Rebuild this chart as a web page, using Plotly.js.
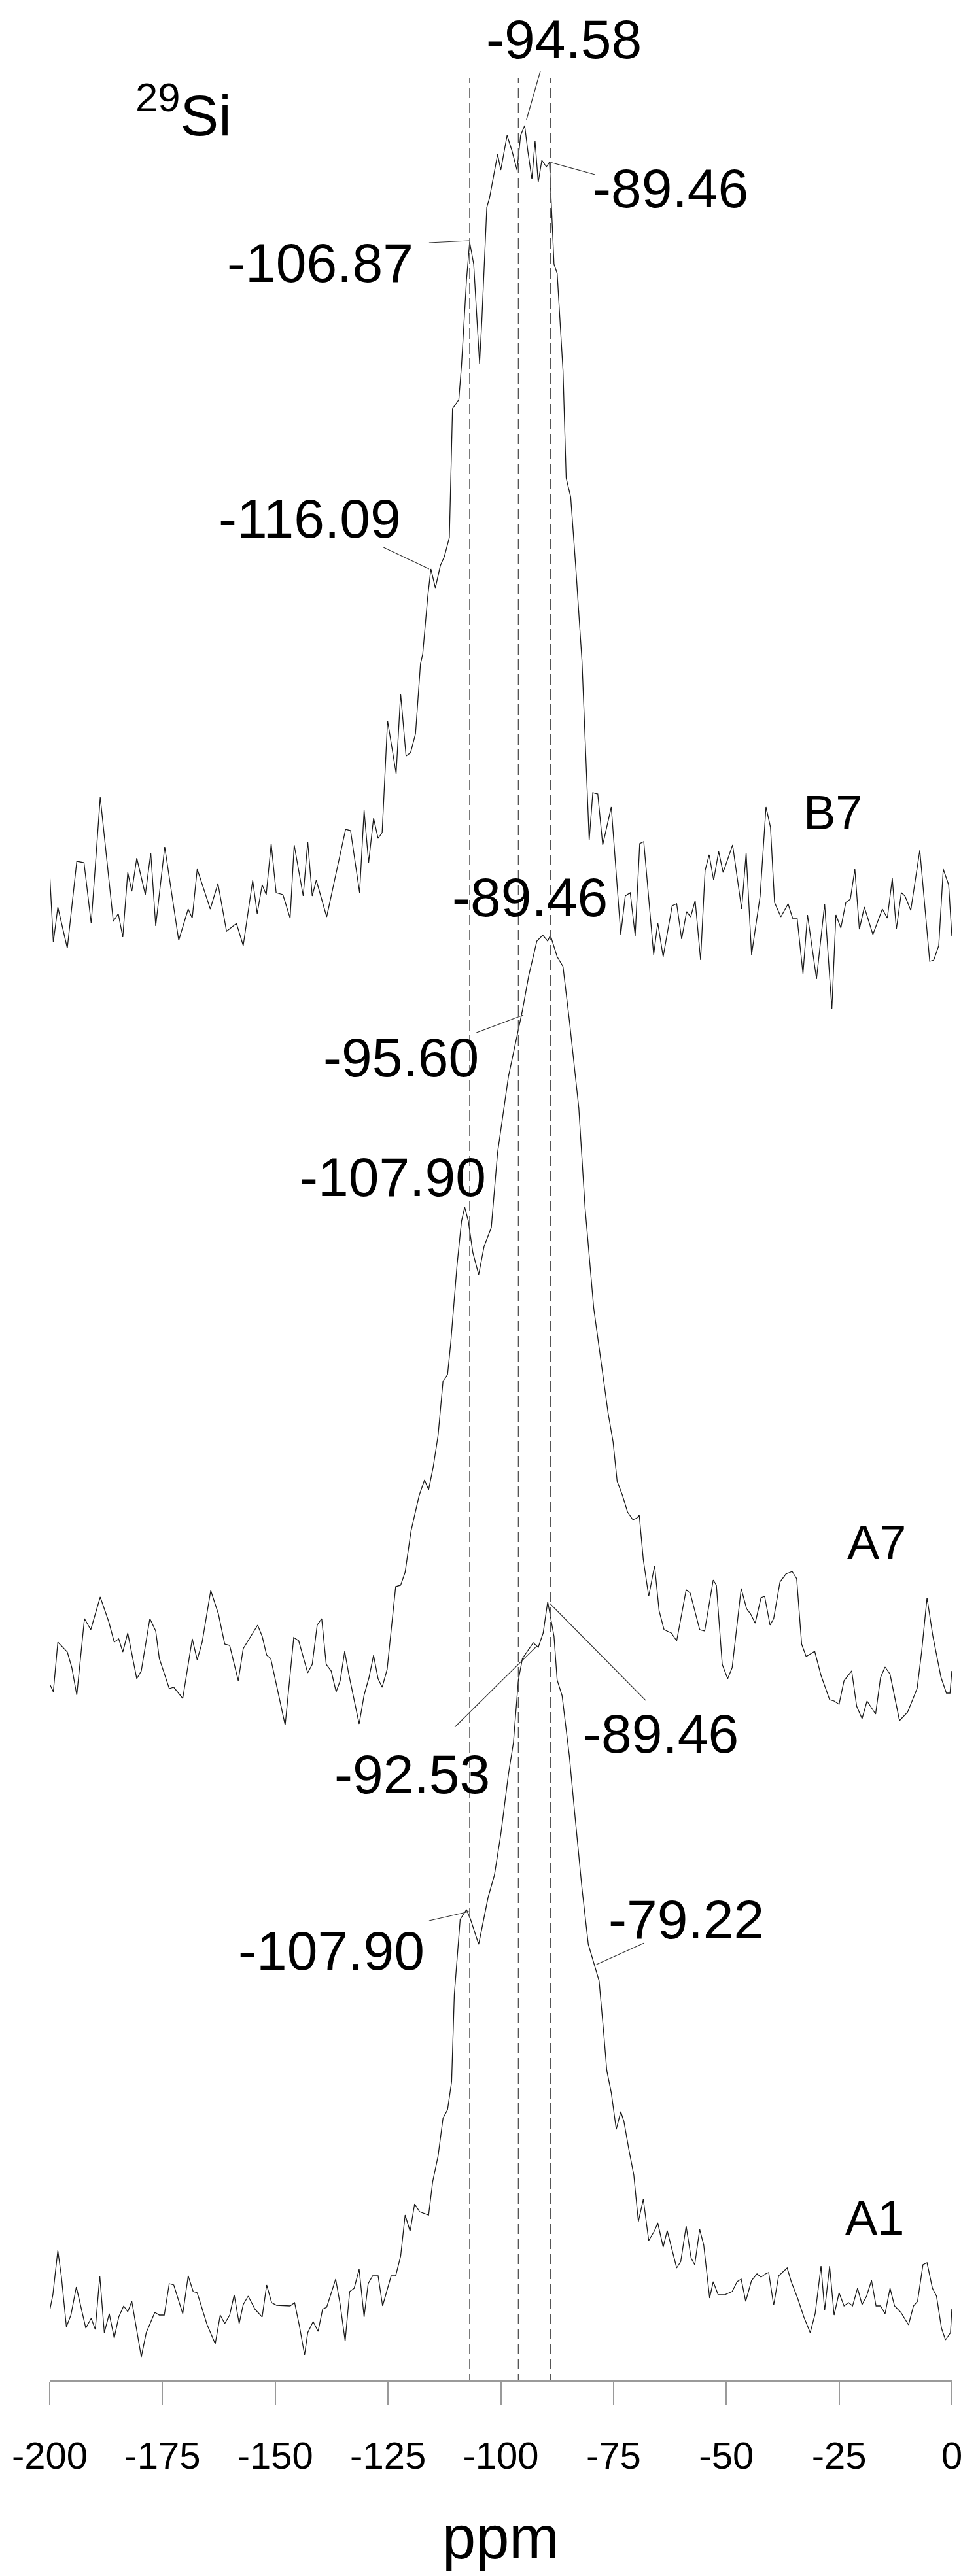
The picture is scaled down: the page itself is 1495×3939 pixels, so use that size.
<!DOCTYPE html>
<html>
<head>
<meta charset="utf-8">
<script src="https://cdn.plot.ly/plotly-3.0.1.min.js"></script>
<style>
  html, body { margin: 0; padding: 0; background: #ffffff; }
  #chart { width: 1495px; height: 3939px; }
</style>
</head>
<body>
<div id="chart"></div>
<script>
// 29Si NMR spectra (chemical shift in ppm, intensity in arbitrary units)
const b7Ppm = [-200, -199.2, -198.2, -196.1, -194, -192.4, -190.8, -188.8, -185.9, -184.8, -183.8, -182.7, -181.8, -180.7, -178.8, -177.6, -176.5, -174.5, -171.4, -169.3, -168.4, -167.3, -164.4, -162.7, -160.8, -158.6, -157.1, -155, -154, -152.9, -152, -150.9, -149.8, -148.3, -146.7, -145.8, -143.8, -142.8, -141.8, -140.9, -138.6, -134.4, -133.3, -131.3, -130.3, -129.3, -128.2, -127.2, -126.3, -125.1, -123.2, -122.2, -121, -120, -118.9, -117.8,
  -117.3, -116.2, -115.5, -114.5, -113.4, -112.5, -111.4, -110.7, -109.3, -108.7, -107.6, -106.9, -106, -104.7, -104.2, -103.1, -102.5, -100.7, -100, -98.6, -97.5, -96.4, -95.6, -94.7, -94, -93.1, -92.4, -91.7, -90.9, -89.9, -89.2, -88.2, -87.5, -86.2, -85.5, -84.5, -83.4, -82, -80.4,
  -79.6, -78.5, -77.4, -75.5, -73.4, -72.4, -71.3, -70.2, -69.2, -68.3, -66.1, -65.2, -64, -62, -61, -59.9, -58.8, -57.9, -56.9, -55.7, -54.7, -53.8, -52.8, -51.7, -50.7, -48.6, -46.6, -45.6, -44.4, -42.5, -41.2, -40.2, -39.3, -37.9, -36.3, -35.3, -34.3, -33, -32, -30, -28.2, -26.6, -25.7, -24.6, -23.5, -22.5, -21.5, -20.5, -19.4, -17.5, -15.4, -14.3, -13.2, -12.3, -11.2, -10.4, -9.1, -7.1, -4.9, -4, -2.9, -1.9, -0.7, 0];
const b7Int = [64, -41, 13, -50, 83, 81, -12, 181, -9, 3, -33, 66, 37, 88, 32, 96, -16, 105, -38, 10, -4, 71, 10, 49, -24, -12, -46, 54, 3, 47, 32, 110, 35, 32, -4, 108, 30, 113, 30, 54, -2, 132, 130, 35, 161, 81, 149, 118, 127, 298, 217, 339, 244, 249, 278, 385,
  400, 487, 530, 501, 535, 549, 578, 775, 789, 842, 972, 1030, 996, 844, 910, 1083, 1097, 1164, 1140, 1193, 1169, 1140, 1193, 1208, 1169, 1126, 1184, 1121, 1155, 1145, 1152, 996, 982, 833, 669, 640, 535, 390, 115,
  188, 186, 108, 166, -29, 30, 35, -31, 110, 113, -60, -11, -63, 15, 18, -36, 6, -2, 23, -68, 69, 93, 54, 98, 66, 108, 10, 96, -60, 30, 166, 135, 20, -2, 18, -4, -4, -89, 1, -97, 18, -143, 1, -19, 20, 25, 71, -21, 13, -29, 10, -4, 57, -21, 35, 30, 8, 100, -70, -68, -46, 71, 47, -31];

const a7Ppm = [-200, -199.2, -198.2, -196.1, -195.1, -194, -192.3, -190.9, -188.8, -186.9, -185.7, -184.7, -183.8, -182.7, -180.7, -179.7, -177.8, -176.5, -175.7, -173.5, -172.5, -170.5, -168.4, -167.3, -166.2, -164.3, -162.6, -161.2, -160.1, -158.2, -157.1, -153.9, -152.9, -151.9, -151, -147.8, -145.9, -144.8, -142.8, -141.8, -140.7, -139.7, -138.7, -137.6, -136.5, -135.6, -134.6, -133.7, -131.4, -130.3, -129.2, -128.2, -127.2, -126.3, -125.2, -123.3, -122.2, -121.2, -119.9, -118.1, -116.9, -116, -115, -113.9, -112.8, -111.8, -111.1,
  -109.7, -108.7, -108, -107.2, -106.2, -104.9, -103.7, -102.1, -100.7, -98.3, -96.5, -95.2, -93.8, -92, -90.7, -89.6, -89, -87.5, -86.2, -84.8, -82.7, -81.3,
  -79.4, -77.6, -76.2, -75.1, -74.2, -73, -71.9, -70.7, -69.8, -69.3, -68.4, -67.2, -65.9, -64.9, -63.8, -62.2, -61, -58.9, -58, -55.9, -54.8, -52.9, -52.2, -50.9, -49.7, -48.7, -46.7, -45.5, -44.6, -43.6, -42.3, -41.5, -40.3, -39.5, -38.1, -36.8, -35.4, -34.4, -33.3, -32.3, -30.4, -29, -27.1, -26.1, -25, -23.9, -22.2, -21.1, -19.9, -18.8, -16.9, -15.8, -14.8, -13.7, -11.6, -9.8, -7.7, -6.7, -5.5, -4.2, -2.4, -1.2, -0.4, 0];
const a7Int = [-35, -47, 29, 14, -10, -52, 65, 48, 98, 60, 29, 34, 14, 43, -27, -15, 65, 46, 4, -42, -40, -57, 34, 2, 29, 108, 72, 26, 24, -30, 19, 55, 38, 9, 4, -98, 36, 31, -18, -5, 55, 65, -5, -15, -47, -30, 15, -20, -96, -52, -25, 9, -27, -40, -13, 114, 116, 136, 199, 253, 277, 262, 296, 345, 428, 438, 486,
  605, 673, 694, 673, 625, 591, 634, 663, 778, 894, 952, 995, 1048, 1101, 1110, 1101, 1110, 1077, 1062, 980, 846, 692,
  540, 447, 379, 335, 275, 253, 228, 216, 219, 223, 155, 99, 146, 77, 48, 43, 31, 109, 104, 48, 46, 124, 116, -5, -27, -10, 111, 80, 72, 58, 97, 99, 55, 65, 121, 133, 137, 126, 26, 7, 15, -22, -59, -61, -66, -30, -15, -69, -88, -61, -81, -25, -9, -20, -91, -78, -42, 14, 97, 38, -25, -49, -49, -15];

const a1Ppm = [-200, -199.3, -198.2, -197.4, -196.3, -195.3, -194.1, -192, -190.8, -189.9, -188.9, -187.9, -186.8, -185.7, -184.7, -183.6, -182.7, -181.8, -179.7, -178.6, -176.7, -175.7, -174.6, -173.5, -172.5, -170.5, -169.3, -168.2, -167.3, -165.1, -163.3, -162.2, -161.2, -160.1, -159.1, -158, -157.1, -156, -154.5, -152.9, -151.9, -150.8, -149.7, -146.7, -145.7, -144.6, -143.5, -142.8, -141.6, -140.5, -139.5, -138.6, -136.6, -135.6, -134.5, -133.5, -132.5, -131.4, -130.3, -129.4, -128.4, -127.2, -126.2, -124.3, -123.3, -122.2, -121.2, -120.1, -119.1, -118, -116, -115.1, -113.9, -112.8, -111.8, -110.9,
  -110.3, -109, -107.6, -106.7, -104.9, -102.8, -101.4, -100, -98.3, -97.2, -96.1, -95.2, -92.8, -91.7, -90.6, -89.6, -88.2, -87.5, -86.4, -84.8, -83.7, -82, -80.6,
  -79.4, -78.2, -77.2, -76.5, -75.5, -74.4, -73.4, -72.7, -71.6, -70.5, -69.5, -68.4, -67.2, -65.9, -65.2, -64, -63.1, -61, -60.1, -58.9, -57.8, -57, -55.9, -55, -53.7, -52.9, -51.8, -50.4, -48.7, -47.6, -46.7, -45.7, -44.4, -43.2, -42.3, -41.3, -40.6, -39.5, -38.4, -36.5, -35.6, -34.2, -32.8, -31.4, -30.3, -29, -28.2, -27.1, -26.1, -25, -23.9, -22.9, -22, -20.9, -19.9, -18.9, -17.8, -16.8, -15.8, -14.8, -13.7, -12.7, -11.3, -9.6, -8.5, -7.6, -6.4, -5.5, -4.3, -3.4, -2.3, -1.4, -0.3, 0];
const a1Int = [7, 31, 99, 58, -18, 0, 43, -20, -5, -22, 60, -27, 2, -35, -3, 14, 5, 21, -64, -27, 4, 0, 0, 48, 46, 2, 60, 36, 34, -15, -44, 0, -13, 0, 31, -13, 16, 29, 9, -3, 46, 19, 15, 14, 19, -18, -61, -27, -10, -25, 9, 12, 55, 16, -40, 36, 41, 70, -3, 48, 60, 60, 14, 60, 60, 90, 153, 128, 170, 158, 153, 204, 243, 301, 314, 357,
  490, 605, 620, 605, 567, 639, 673, 735, 827, 875, 971, 1004, 1028, 1021, 1043, 1091, 1038, 971, 947, 855, 774, 653, 567,
  540, 511, 433, 374, 340, 284, 311, 296, 253, 214, 143, 177, 114, 129, 141, 104, 129, 72, 82, 136, 87, 77, 131, 107, 26, 51, 31, 31, 36, 51, 55, 21, 53, 63, 58, 63, 65, 15, 60, 72, 51, 26, -3, -27, 2, 75, 7, 75, 0, 34, 14, 19, 14, 41, 16, 29, 53, 14, 14, 2, 41, 14, 4, -15, 14, 21, 77, 80, 41, 29, -20, -38, -27, 10];

const sampleNames = ["B7", "A7", "A1"];
const markerShifts = [-106.9, -96.1, -89.0];
const tickValues = [-200, -175, -150, -125, -100, -75, -50, -25, 0];

// vertical stacking of the spectra (plot units = pixels)
const offsets = { B7: 2240, A7: 1100, A1: 100 };
const FONT = "Liberation Sans, Arial, Helvetica, sans-serif";

function stacked(values, offset) {
  return values.map(v => v + offset);
}

const series = [
  { name: "B7", x: b7Ppm, y: b7Int },
  { name: "A7", x: a7Ppm, y: a7Int },
  { name: "A1", x: a1Ppm, y: a1Int }
];

const traces = series.map(s => ({
  x: s.x,
  y: stacked(s.y, offsets[s.name]),
  type: "scatter",
  mode: "lines",
  name: s.name,
  line: { color: "#1a1a1a", width: 1.3 },
  hoverinfo: "x"
}));

const dashed = markerShifts.map(ppm => ({
  type: "line",
  xref: "x", yref: "y",
  x0: ppm, x1: ppm,
  y0: -6, y1: 3520,
  line: { color: "#555555", width: 1.4, dash: "16px,7px" }
}));

// peak labels: text position and leader line (from label to peak)
const peakLabels = [
  { text: "-94.58", x: -86.0, y: 3580, lead: [-91.2, 3532, -94.3, 3457] },
  { text: "-89.46", x: -62.3, y: 3352, lead: [-79.1, 3373, -89.1, 3392] },
  { text: "-106.87", x: -140.1, y: 3238, lead: [-115.9, 3269, -107.0, 3272] },
  { text: "-116.09", x: -142.4, y: 2847, lead: [-126.0, 2803, -115.9, 2770] },
  { text: "-89.46", x: -93.6, y: 2268, lead: null },
  { text: "-95.60", x: -122.1, y: 2023, lead: [-105.4, 2061, -95.0, 2088] },
  { text: "-107.90", x: -124.0, y: 1840, lead: null },
  { text: "-92.53", x: -119.6, y: 927, lead: [-110.2, 999, -92.3, 1121] },
  { text: "-89.46", x: -64.6, y: 989, lead: [-67.9, 1040, -89.1, 1188] },
  { text: "-107.90", x: -137.5, y: 657, lead: [-115.9, 703, -107.0, 717] },
  { text: "-79.22", x: -58.9, y: 705, lead: [-68.2, 669, -78.8, 636] }
];

const nameLabels = [
  { text: "B7", x: -26.3, y: 2398 },
  { text: "A7", x: -16.6, y: 1282 },
  { text: "A1", x: -17.0, y: 249 }
];

const leaders = peakLabels.filter(p => p.lead).map(p => ({
  type: "line",
  xref: "x", yref: "y",
  x0: p.lead[0], y0: p.lead[1], x1: p.lead[2], y1: p.lead[3],
  line: { color: "#333333", width: 1.2 }
}));

const annotations = peakLabels.map(p => ({
  text: p.text, x: p.x, y: p.y, xref: "x", yref: "y",
  showarrow: false, xanchor: "center", yanchor: "middle",
  font: { family: FONT, size: 84, color: "#000000" }
})).concat(nameLabels.map(n => ({
  text: n.text, x: n.x, y: n.y, xref: "x", yref: "y",
  showarrow: false, xanchor: "center", yanchor: "middle",
  font: { family: FONT, size: 74, color: "#000000" }
}))).concat([{
  text: "<sup>29</sup>Si", x: -170.4, y: 3470, xref: "x", yref: "y",
  showarrow: false, xanchor: "center", yanchor: "middle",
  font: { family: FONT, size: 88, color: "#000000" }
}]);

const layout = {
  width: 1495,
  height: 3939,
  paper_bgcolor: "#ffffff",
  plot_bgcolor: "#ffffff",
  showlegend: false,
  margin: { l: 75.5, r: 39.5, t: 0, b: 299, pad: 0 },
  font: { family: FONT, color: "#000000" },
  xaxis: {
    range: [-200, 0],
    tickmode: "array",
    tickvals: tickValues,
    ticktext: tickValues.map(String),
    ticks: "outside",
    ticklen: 35,
    tickwidth: 2,
    tickcolor: "#9a9a9a",
    showline: true,
    linecolor: "#9a9a9a",
    linewidth: 2.5,
    showgrid: false,
    zeroline: false,
    ticklabelstandoff: 28,
    tickfont: { family: FONT, size: 58, color: "#000000" },
    title: { text: "ppm", standoff: 62, font: { family: FONT, size: 92, color: "#000000" } },
    automargin: false,
    fixedrange: true
  },
  yaxis: {
    range: [0, 3640],
    visible: false,
    fixedrange: true
  },
  shapes: dashed.concat(leaders),
  annotations: annotations
};

Plotly.newPlot("chart", traces, layout, { displayModeBar: false, staticPlot: true });
</script>
</body>
</html>
